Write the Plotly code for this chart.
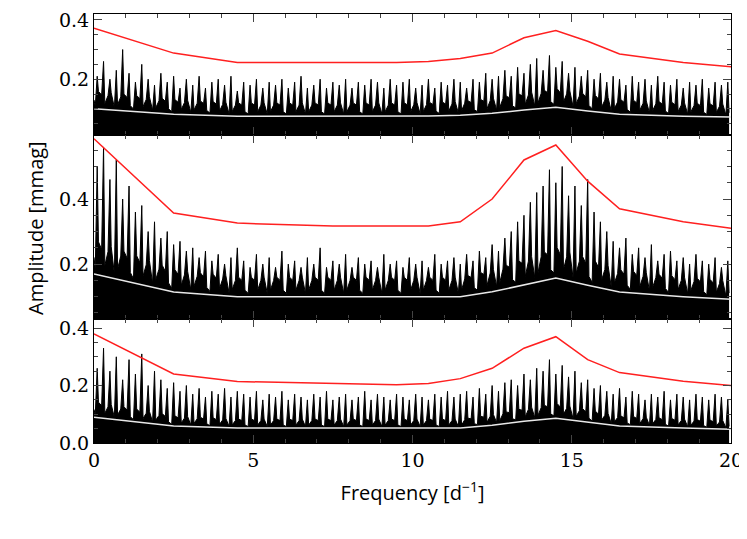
import numpy as np
import plotly.graph_objects as go
from plotly.subplots import make_subplots

# knots of the smoothed curves (frequency in d^-1)
knot_x = [0, 2.5, 4.5, 7.5, 9.5, 10.5, 11.5, 12.5, 13.5, 14.5, 15.5, 16.5, 18.5, 20]
red_top = [0.372, 0.288, 0.256, 0.255, 0.256, 0.26, 0.27, 0.288, 0.34, 0.364, 0.328, 0.285, 0.256, 0.242]
red_mid = [0.585, 0.357, 0.326, 0.317, 0.317, 0.317, 0.33, 0.40, 0.52, 0.566, 0.455, 0.37, 0.33, 0.31]
red_bot = [0.38, 0.24, 0.214, 0.208, 0.203, 0.207, 0.224, 0.26, 0.33, 0.37, 0.29, 0.245, 0.215, 0.20]
white_top = [0.10, 0.082, 0.075, 0.075, 0.075, 0.076, 0.078, 0.085, 0.096, 0.105, 0.093, 0.082, 0.075, 0.072]
white_mid = [0.17, 0.114, 0.10, 0.10, 0.10, 0.10, 0.10, 0.115, 0.135, 0.157, 0.135, 0.114, 0.10, 0.092]
white_bot = [0.09, 0.059, 0.052, 0.052, 0.052, 0.052, 0.052, 0.062, 0.076, 0.086, 0.072, 0.059, 0.052, 0.048]

# spike heights every 0.2 d^-1 (x = 0.1 ... 19.9)
spike_x = [round(0.1 + 0.2 * i, 2) for i in range(100)]
peaks_top = [0.21, 0.26, 0.2, 0.23, 0.3, 0.22, 0.19, 0.25, 0.2, 0.18, 0.22, 0.19, 0.21, 0.17, 0.2, 0.18,
             0.21, 0.17, 0.19, 0.2, 0.18, 0.21, 0.16, 0.19, 0.18, 0.2, 0.17, 0.19, 0.18, 0.2, 0.17, 0.19,
             0.21, 0.17, 0.18, 0.2, 0.17, 0.19, 0.18, 0.2, 0.17, 0.19, 0.18, 0.2, 0.19, 0.17, 0.2, 0.18,
             0.19, 0.2, 0.17, 0.18, 0.2, 0.17, 0.19, 0.18, 0.2, 0.19, 0.17, 0.2, 0.19, 0.22, 0.2, 0.21,
             0.23, 0.21, 0.24, 0.22, 0.25, 0.27, 0.23, 0.28, 0.24, 0.26, 0.22, 0.24, 0.21, 0.23, 0.2, 0.22,
             0.19, 0.21, 0.2, 0.18, 0.21, 0.19, 0.2, 0.18, 0.21, 0.19, 0.18, 0.2, 0.17, 0.19, 0.18, 0.2,
             0.17, 0.19, 0.18, 0.19]
peaks_mid = [0.5, 0.56, 0.46, 0.52, 0.4, 0.44, 0.36, 0.38, 0.3, 0.33, 0.28, 0.3, 0.26, 0.27, 0.24, 0.25,
             0.22, 0.24, 0.21, 0.23, 0.2, 0.22, 0.25, 0.21, 0.19, 0.23, 0.2, 0.22, 0.19, 0.24, 0.2, 0.21,
             0.19, 0.22, 0.2, 0.25, 0.19, 0.21, 0.2, 0.23, 0.19, 0.22, 0.2, 0.21, 0.19, 0.23, 0.2, 0.21,
             0.19, 0.22, 0.2, 0.21, 0.19, 0.23, 0.2, 0.21, 0.22, 0.2, 0.23, 0.21, 0.24, 0.22, 0.26, 0.24,
             0.28, 0.3, 0.33, 0.35, 0.39, 0.42, 0.44, 0.49, 0.45, 0.5, 0.41, 0.44, 0.38, 0.46, 0.36, 0.33,
             0.3, 0.27, 0.25, 0.28, 0.23, 0.25, 0.22, 0.26, 0.21, 0.23, 0.24, 0.21, 0.22, 0.2, 0.23, 0.21,
             0.2, 0.22, 0.19, 0.21]
peaks_bot = [0.26, 0.33, 0.25, 0.3, 0.22, 0.29, 0.24, 0.31, 0.2, 0.25, 0.22, 0.19, 0.21, 0.18, 0.2, 0.17,
             0.19, 0.16, 0.18, 0.17, 0.19, 0.16, 0.18, 0.17, 0.16, 0.18, 0.15, 0.17, 0.16, 0.18, 0.15, 0.17,
             0.16, 0.15, 0.17, 0.16, 0.18, 0.15, 0.16, 0.17, 0.15, 0.16, 0.18, 0.15, 0.17, 0.16, 0.15, 0.17,
             0.16, 0.15, 0.17, 0.16, 0.15, 0.17, 0.16, 0.18, 0.16, 0.17, 0.18, 0.16, 0.19, 0.17, 0.2, 0.18,
             0.21, 0.22, 0.2, 0.24, 0.22, 0.26, 0.25, 0.29, 0.24, 0.27, 0.23, 0.25, 0.21, 0.22, 0.19, 0.2,
             0.18, 0.17, 0.19, 0.16, 0.18, 0.17, 0.15, 0.17, 0.16, 0.18, 0.15, 0.17, 0.16, 0.15, 0.17, 0.16,
             0.15, 0.17, 0.16, 0.15]

panels = [(peaks_top, red_top, white_top, [0.013, 0.42]),
          (peaks_mid, red_mid, white_mid, [0.03, 0.598]),
          (peaks_bot, red_bot, white_bot, [0.0, 0.43])]

fig = make_subplots(rows=3, cols=1, shared_xaxes=True, vertical_spacing=0,
                    row_heights=[122, 187, 125])

serif = dict(family='DejaVu Serif', size=19, color='black')
sans = dict(family='Open Sans', size=20, color='black')

for r, (peaks, red, white, yr) in enumerate(panels, start=1):
    # jagged noise: spikes up to each peak, valleys near the mean noise level
    xs, ys = [0], [np.interp(0, knot_x, white) * 1.3]
    for i, (x, p) in enumerate(zip(spike_x, peaks)):
        w = np.interp(x, knot_x, white)
        xs += [x - 0.06, x, x + 0.04]
        ys += [w * (1.5 if i % 3 else 1.1), p, w * (1.2 if i % 2 else 1.6)]
    fig.add_trace(go.Scatter(x=xs, y=ys, mode='lines', fill='tozeroy', fillcolor='black',
                             line=dict(color='black', width=1)), row=r, col=1)
    fig.add_trace(go.Scatter(x=knot_x, y=white, mode='lines', line=dict(color='#e8e8e8', width=1.5)), row=r, col=1)
    fig.add_trace(go.Scatter(x=knot_x, y=red, mode='lines', line=dict(color='#ff2020', width=1.5)), row=r, col=1)
    fig.update_yaxes(range=yr, dtick=0.2, tick0=0, ticks='inside', ticklen=8, mirror='ticks',
                     minor=dict(dtick=0.05, ticks='inside', ticklen=4, showgrid=False),
                     showline=True, linecolor='black', linewidth=1, showgrid=False, zeroline=False,
                     tickformat='.1f', tickfont=serif, ticklabeloverflow='allow', row=r, col=1)

fig.update_xaxes(range=[0, 20], dtick=5, ticks='inside', ticklen=8, mirror='ticks',
                 minor=dict(dtick=1, ticks='inside', ticklen=4, showgrid=False),
                 showline=True, linecolor='black', linewidth=1, showgrid=False, zeroline=False,
                 tickfont=serif, ticklabeloverflow='allow')
fig.update_xaxes(title=dict(text='Frequency [d<sup>−1</sup>]', font=sans, standoff=16), row=3, col=1)

# the page adds an 8px offset, so the figure is sized to fit the window
fig.update_layout(width=739, height=531, showlegend=False, plot_bgcolor='white', paper_bgcolor='white',
                  margin=dict(l=86, r=16, t=6, b=96, autoexpand=False),
                  font=serif,
                  annotations=[dict(text='Amplitude [mmag]', x=0.0, y=0.5, xref='paper', yref='paper',
                                    xshift=-74, textangle=-90, showarrow=False, font=sans)])

fig.write_html("out.html")
